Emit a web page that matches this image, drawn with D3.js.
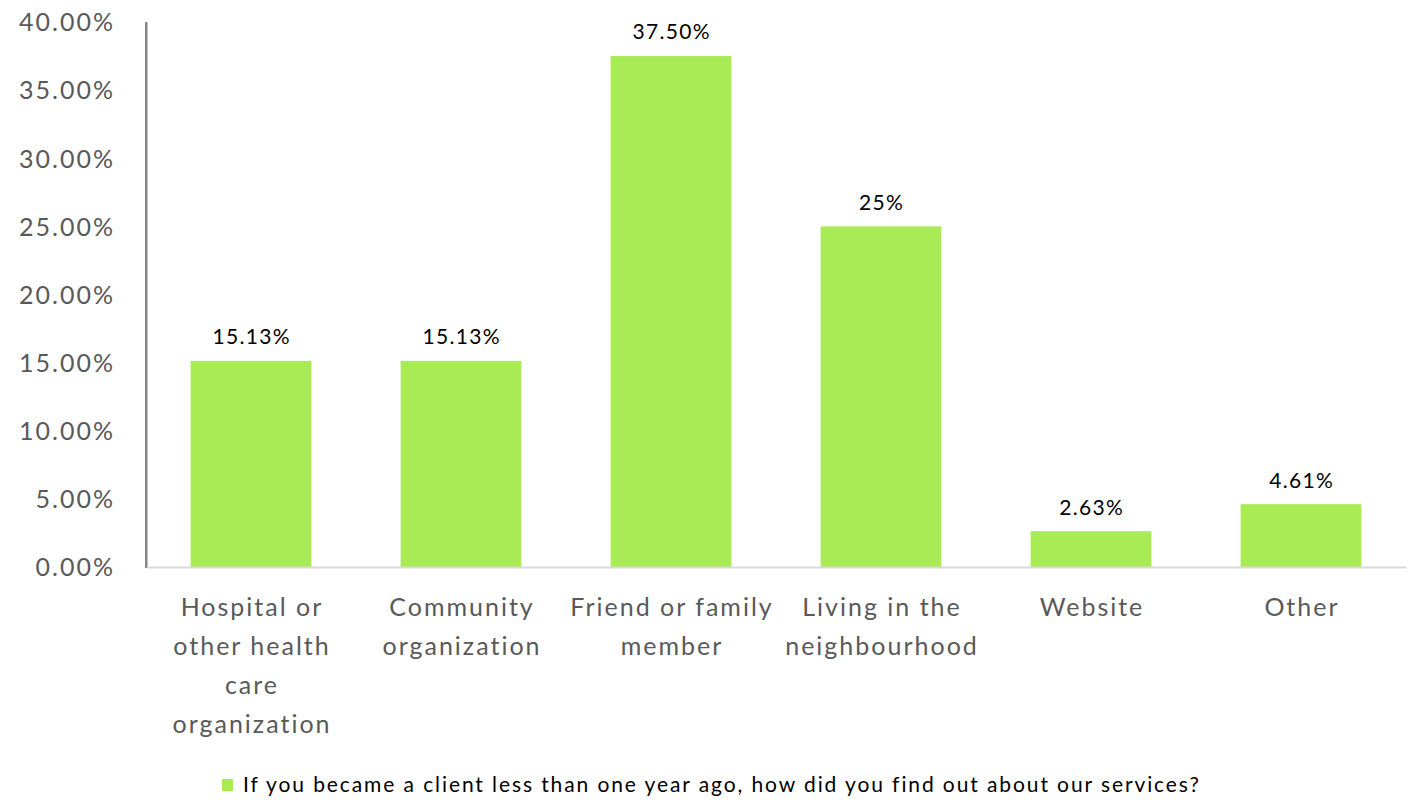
<!DOCTYPE html>
<html>
<head>
<meta charset="utf-8">
<script src="https://cdn.jsdelivr.net/npm/d3@7"></script>
<style>
  html, body { margin: 0; padding: 0; background: #ffffff; }
  svg { display: block; }
  text { font-family: Lato, "Open Sans", sans-serif; }
</style>
</head>
<body>
<svg id="chart" width="1423" height="800"></svg>
<script>
// Survey responses: how new clients found out about the services
const categories = [
  ["Hospital or", "other health", "care", "organization"],
  ["Community", "organization"],
  ["Friend or family", "member"],
  ["Living in the", "neighbourhood"],
  ["Website"],
  ["Other"]
];
const values = [15.13, 15.13, 37.5, 25, 2.63, 4.61];
const valueLabels = ["15.13%", "15.13%", "37.50%", "25%", "2.63%", "4.61%"];
const yTicks = [0, 5, 10, 15, 20, 25, 30, 35, 40];
const seriesName = "If you became a client less than one year ago, how did you find out about our services?";

const svg = d3.select("#chart");
const margin = { left: 146, right: 17, top: 22, bottom: 233 };
const width = 1423, height = 800;

const x = d3.scaleBand()
  .domain(d3.range(categories.length))
  .range([margin.left, width - margin.right])
  .paddingInner(0.425)
  .paddingOuter(0.2125);

const y = d3.scaleLinear()
  .domain([0, 40])
  .range([height - margin.bottom, margin.top]);

const barColor = "#a9eb54";

// y-axis labels
const tickSpacing = 2;
const yAxis = d3.axisLeft(y)
  .tickValues(yTicks)
  .tickSize(0)
  .tickPadding(33 - tickSpacing)
  .tickFormat(d => d.toFixed(2) + "%");
const gy = svg.append("g")
  .attr("transform", `translate(${margin.left},0)`)
  .call(yAxis);
gy.select(".domain").attr("stroke", "#868686").attr("stroke-width", 2);
gy.selectAll("text")
  .attr("fill", "#595959")
  .style("font-size", "25px")
  .style("letter-spacing", tickSpacing + "px")
  .attr("dy", "0.35em");

// bars
svg.append("g").selectAll("rect")
  .data(values)
  .join("rect")
  .attr("x", (d, i) => x(i))
  .attr("width", x.bandwidth())
  .attr("y", d => y(d))
  .attr("height", d => y(0) - y(d))
  .attr("fill", barColor);

// x-axis baseline
const xAxis = d3.axisBottom(x).tickSize(0).tickFormat("");
const gx = svg.append("g")
  .attr("transform", `translate(0,${y(0)})`)
  .call(xAxis);
gx.select(".domain").attr("stroke", "#d9d9d9").attr("stroke-width", 2);

// redraw y-axis line over the baseline
svg.append("line")
  .attr("x1", margin.left).attr("x2", margin.left)
  .attr("y1", y(40)).attr("y2", y(0) + 1)
  .attr("stroke", "#868686").attr("stroke-width", 2);

// value labels
const valueSpacing = 1.3;
svg.append("g").selectAll("text")
  .data(values)
  .join("text")
  .attr("x", (d, i) => x(i) + x.bandwidth() / 2 + valueSpacing / 2)
  .attr("y", d => y(d) - 24)
  .attr("dy", "0.35em")
  .attr("text-anchor", "middle")
  .attr("fill", "#000000")
  .style("font-size", "21px")
  .style("letter-spacing", valueSpacing + "px")
  .text((d, i) => valueLabels[i]);

// category labels
const catSpacing = 2;
const cat = svg.append("g").selectAll("text")
  .data(categories)
  .join("text")
  .attr("text-anchor", "middle")
  .attr("fill", "#595959")
  .style("font-size", "25px")
  .style("letter-spacing", catSpacing + "px")
  .attr("transform", (d, i) => `translate(${x(i) + x.bandwidth() / 2 + catSpacing / 2},${y(0) + 40})`);
cat.selectAll("tspan")
  .data(d => d)
  .join("tspan")
  .attr("x", 0)
  .attr("y", (d, j) => j * 39)
  .attr("dy", "0.35em")
  .text(d => d);

// legend
const legend = svg.append("g").attr("transform", "translate(222,785)");
legend.append("rect")
  .attr("x", 0).attr("y", -6)
  .attr("width", 11).attr("height", 12)
  .attr("fill", barColor);
legend.append("text")
  .attr("x", 21)
  .attr("dy", "0.35em")
  .attr("fill", "#000000")
  .style("font-size", "21px")
  .style("letter-spacing", "1.9px")
  .text(seriesName);
</script>
</body>
</html>
